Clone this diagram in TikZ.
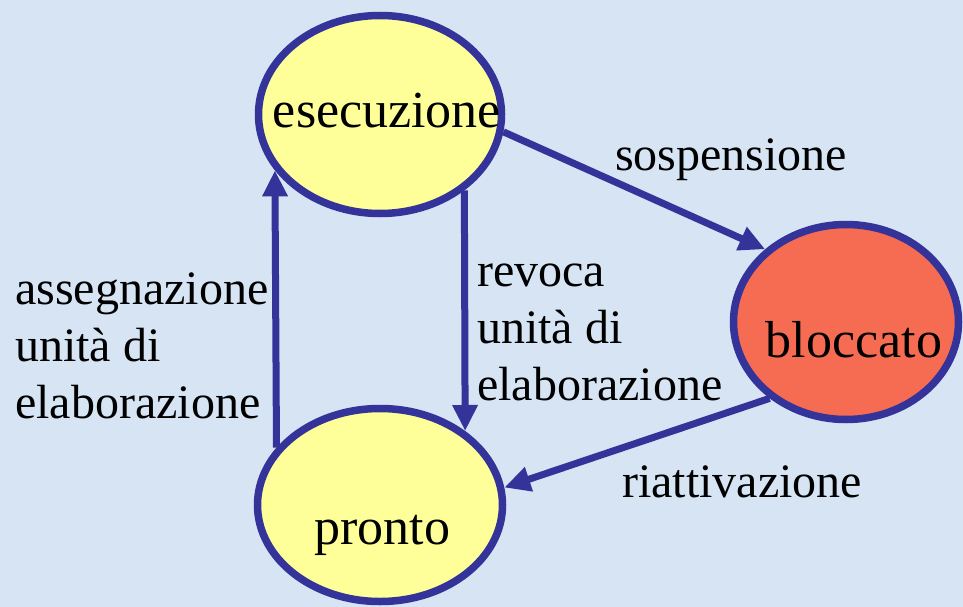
\documentclass[tikz,border=0pt]{standalone}
\usepackage{fontspec}
\setmainfont{Liberation Serif}
\usetikzlibrary{shapes.geometric,arrows.meta}
\definecolor{bgblue}{RGB}{214,228,244}
\definecolor{edgeblue}{RGB}{51,51,153}
\definecolor{stateyellow}{RGB}{255,255,153}
\definecolor{statered}{RGB}{246,108,82}
\begin{document}
\begin{tikzpicture}[x=1pt,y=-1pt,
  state/.style={ellipse, draw=edgeblue, line width=7.5pt, inner sep=0pt, text depth=0pt, font=\fontsize{52}{60}\selectfont},
  trans/.style={draw=edgeblue, line width=7pt, -{Triangle[length=26pt,width=24pt]}},
  lbl/.style={font=\fontsize{48}{57}\selectfont, align=left, inner sep=0pt, anchor=base west}]
\fill[bgblue] (0,0) rectangle (963,607);
\useasboundingbox (0,0) rectangle (963,607);
\node[state, fill=stateyellow, minimum width=243pt, minimum height=198pt, text height=27pt] (esec) at (380,114.5) {\makebox[0pt]{\hspace{14pt}esecuzione}};
\node[state, fill=statered, minimum width=225pt, minimum height=195pt, text height=70pt] (blocc) at (846,322) {\makebox[0pt]{\hspace{16pt}bloccato}};
\node[state, fill=stateyellow, minimum width=245pt, minimum height=193pt, text height=78pt] (pronto) at (380,505) {\makebox[0pt]{\hspace{5pt}pronto}};
\draw[trans] (pronto.151.6) -- (esec.208.6);
\draw[trans] (esec.318.3) -- (pronto.41.2);
\draw[trans] (esec.352.6) -- (blocc.138.8);
\draw[trans] (blocc.225) -- (pronto.8.2);
\node[lbl] (sosp) at (615,170) {sospensione};
\node[lbl] (riatt) at (622,497) {riattivazione};
\node[lbl] (asse) at (15,418) {assegnazione\\unità di\\elaborazione};
\node[lbl] (revo) at (477,400) {revoca\\unità di\\elaborazione};
\end{tikzpicture}
\end{document}
